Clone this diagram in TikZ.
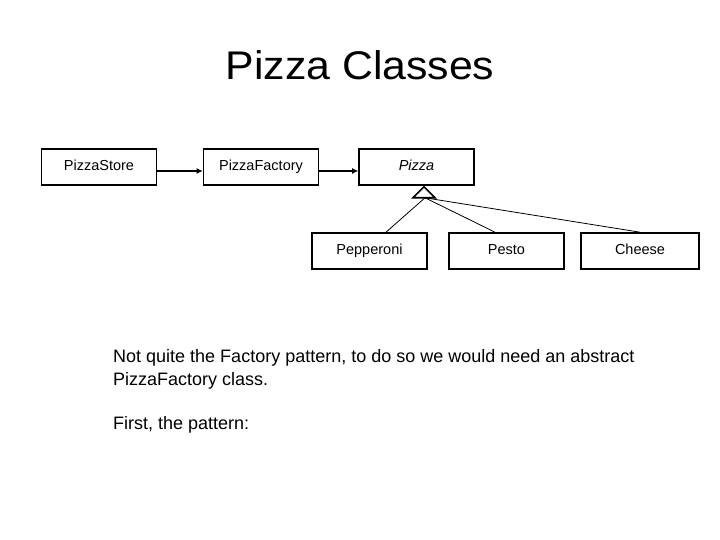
\documentclass[tikz,border=0pt]{standalone}
\usepackage{fontspec}
\setmainfont{Liberation Sans}
\usetikzlibrary{arrows.meta}
\tikzset{
  classbox/.style={draw=black, line width=1.6pt, rectangle, minimum width=115pt, minimum height=36pt, inner sep=0pt, text height=10pt, text depth=2.5pt, font=\fontsize{14.5}{16}\selectfont},
  assoc/.style={line width=1.5pt, -{Latex[length=6pt,width=6pt]}},
  inherit/.style={line width=0.8pt},
  bodytext/.style={anchor=base west, inner sep=0pt, font=\fontsize{18}{22}\selectfont}
}
\begin{document}
\begin{tikzpicture}[x=1pt,y=-1pt]
\useasboundingbox[fill=white] (0,0) rectangle (720,540);
% title
\node[anchor=base, inner sep=0pt, font=\fontsize{40}{44}\selectfont] (title) at (360,80) {\scalebox{1.07}[1]{Pizza Classes}};
% classes
\node[classbox] (ps) at (99,167) {PizzaStore};
\node[classbox] (pf) at (261,167) {PizzaFactory};
\node[classbox, font=\fontsize{14.5}{16}\selectfont\itshape] (pz) at (416.5,167) {Pizza};
\node[classbox] (pep) at (369.5,251) {Pepperoni};
\node[classbox] (pes) at (506.5,251) {Pesto};
\node[classbox, minimum width=118pt] (che) at (640,251) {Cheese};
% associations
\draw[assoc] ([yshift=-4pt]ps.east) -- ([yshift=-4pt]pf.west);
\draw[assoc] ([yshift=-4pt]pf.east) -- ([yshift=-4pt]pz.west);
% inheritance triangle
\coordinate (apex) at ([xshift=7.5pt,yshift=-1pt]pz.south);
\coordinate (bl) at ([xshift=-11pt,yshift=-11pt]apex);
\coordinate (br) at ([xshift=11pt,yshift=-11pt]apex);
\coordinate (bm) at ([xshift=1pt,yshift=-11pt]apex);
\draw[line width=1.6pt, line join=miter] (apex) -- (bl) -- (br) -- cycle;
\draw[inherit] (bm) -- ([xshift=16.5pt]pep.north);
\draw[inherit] (bm) -- ([xshift=-11.5pt]pes.north);
\draw[inherit] (bm) -- (che.north);
% body text
\node[bodytext] (t1) at (113,362) {Not quite the Factory pattern, to do so we would need an abstract};
\node[bodytext] (t2) at (113,385) {PizzaFactory class.};
\node[bodytext] (t3) at (113,429) {First, the pattern:};
\end{tikzpicture}
\end{document}
